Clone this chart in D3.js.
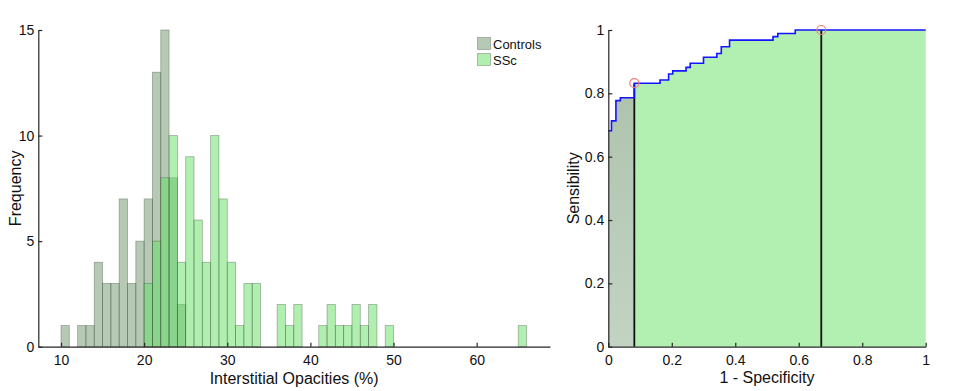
<!DOCTYPE html>
<html>
<head>
<meta charset="utf-8">
<script src="https://cdn.jsdelivr.net/npm/d3@7"></script>
<style>
  body { margin: 0; background: #fff; }
  text { font-family: "Liberation Sans", Arial, Helvetica, sans-serif; fill: #111; }
</style>
</head>
<body>
<svg width="957" height="391"></svg>
<script>
// Histogram data: bin start (width 1) and count
const controlsBin = [10, 12, 13, 14, 15, 16, 17, 18, 19, 20, 21, 22, 23, 24];
const controlsCount = [1, 1, 1, 4, 3, 3, 7, 3, 5, 7, 13, 15, 8, 2];
const sscBin = [20, 21, 22, 23, 24, 25, 26, 27, 28, 29, 30, 31, 32, 33, 36, 37, 38, 41, 42, 43, 44, 45, 46, 47, 49, 65];
const sscCount = [3, 5, 8, 10, 4, 9, 6, 4, 10, 7, 4, 1, 3, 3, 2, 1, 2, 1, 2, 1, 1, 2, 1, 2, 1, 1];
const histXTicks = [10, 20, 30, 40, 50, 60];
const histYTicks = [0, 5, 10, 15];
const legendLabels = ["Controls", "SSc"];

// ROC curve (step points)
const rocFpr = [0, 0.010, 0.024, 0.038, 0.082, 0.163, 0.190, 0.203, 0.245, 0.258, 0.300, 0.342, 0.356, 0.382, 0.519, 0.534, 0.589, 1.0];
const rocTpr = [0.682, 0.713, 0.777, 0.786, 0.832, 0.842, 0.861, 0.871, 0.882, 0.895, 0.914, 0.926, 0.947, 0.968, 0.979, 0.989, 1.0, 1.0];
// marked operating points
const cutFpr = [0.082, 0.671];
const cutTpr = [0.832, 1.0];
const rocTicks = [0, 0.2, 0.4, 0.6, 0.8, 1];

const svg = d3.select("svg");
const axisColor = "#262626";

const controlsFill = "#6b936b";
const sscFill = "#62e062";

// ---------- Left: histogram ----------
const hx = d3.scaleLinear().domain([7.27, 68.82]).range([38.3, 550]);
const hy = d3.scaleLinear().domain([0, 15]).range([346.7, 30]);

const left = svg.append("g");

const controls = controlsBin.map((b, i) => ({ bin: b, n: controlsCount[i] }));
const ssc = sscBin.map((b, i) => ({ bin: b, n: sscCount[i] }));

function drawBars(data, fill) {
  left.append("g")
    .selectAll("rect")
    .data(data)
    .enter()
    .append("rect")
    .attr("x", (d) => hx(d.bin))
    .attr("y", (d) => hy(d.n))
    .attr("width", (d) => hx(d.bin + 1) - hx(d.bin))
    .attr("height", (d) => hy(0) - hy(d.n))
    .attr("fill", fill)
    .attr("fill-opacity", 0.5)
    .attr("stroke", "#2e3a2e")
    .attr("stroke-opacity", 0.38)
    .attr("stroke-width", 0.8);
}
drawBars(controls, controlsFill);
drawBars(ssc, sscFill);

// axes
left.append("g")
  .attr("transform", `translate(0,${hy(0)})`)
  .call(d3.axisBottom(hx).tickValues(histXTicks).tickSizeInner(-4).tickSizeOuter(0).tickPadding(8));
left.append("g")
  .attr("transform", `translate(${hx.range()[0]},0)`)
  .call(d3.axisLeft(hy).tickValues(histYTicks).tickSizeInner(-4).tickSizeOuter(0).tickPadding(4));

left.append("text")
  .attr("x", (hx.range()[0] + hx.range()[1]) / 2)
  .attr("y", 384)
  .attr("text-anchor", "middle")
  .style("font-size", "16px")
  .text("Interstitial Opacities (%)");

left.append("text")
  .attr("transform", `translate(21,${(hy(0) + hy(15)) / 2}) rotate(-90)`)
  .attr("text-anchor", "middle")
  .style("font-size", "16px")
  .text("Frequency");

// legend
const legend = left.append("g");
[controlsFill, sscFill].forEach((c, i) => {
  legend.append("rect")
    .attr("x", 477.5)
    .attr("y", 37.5 + i * 16)
    .attr("width", 13)
    .attr("height", 12)
    .attr("fill", c)
    .attr("fill-opacity", 0.5)
    .attr("stroke", "#2e3a2e")
    .attr("stroke-opacity", 0.38)
    .attr("stroke-width", 0.8);
  legend.append("text")
    .attr("x", 493)
    .attr("y", 48.5 + i * 16)
    .style("font-size", "13px")
    .text(legendLabels[i]);
});

// ---------- Right: ROC ----------
const rx = d3.scaleLinear().domain([0, 1]).range([608.3, 925.7]);
const ry = d3.scaleLinear().domain([0, 1]).range([346.7, 30]);

const right = svg.append("g");

const roc = rocFpr.map((f, i) => ({ f: f, t: rocTpr[i] }));
const cut = cutFpr[0];
const grayPts = roc.filter((d) => d.f < cut);
grayPts.push({ f: cut, t: grayPts[grayPts.length - 1].t });
const greenPts = roc.filter((d) => d.f >= cut);

const defs = svg.append("defs");
const grad = defs.append("linearGradient")
  .attr("id", "grayGrad")
  .attr("x1", 0).attr("y1", 0).attr("x2", 0).attr("y2", 1);
grad.append("stop").attr("offset", "0%").attr("stop-color", "#afc4af");
grad.append("stop").attr("offset", "100%").attr("stop-color", "#c3d3c3");

const area = d3.area()
  .curve(d3.curveStepAfter)
  .x((d) => rx(d.f))
  .y0(ry(0))
  .y1((d) => ry(d.t));

right.append("path")
  .datum(grayPts)
  .attr("fill", "url(#grayGrad)")
  .attr("d", area);

right.append("path")
  .datum(greenPts)
  .attr("fill", "#b2f0b2")
  .attr("d", area);

// vertical cut lines
right.selectAll(".cutLine")
  .data(cutFpr)
  .enter()
  .append("line")
  .attr("class", "cutLine")
  .attr("x1", (d) => rx(d))
  .attr("x2", (d) => rx(d))
  .attr("y1", ry(0))
  .attr("y2", (d, i) => ry(cutTpr[i]))
  .attr("stroke", "#111")
  .attr("stroke-width", 1.8);

// ROC line
right.append("path")
  .datum(roc)
  .attr("fill", "none")
  .attr("stroke", "#1414ff")
  .attr("stroke-width", 1.6)
  .attr("d", d3.line().curve(d3.curveStepAfter).x((d) => rx(d.f)).y((d) => ry(d.t)));

// markers
right.selectAll(".cutMark")
  .data(cutFpr)
  .enter()
  .append("circle")
  .attr("class", "cutMark")
  .attr("cx", (d) => rx(d))
  .attr("cy", (d, i) => ry(cutTpr[i]))
  .attr("r", 4.5)
  .attr("fill", "none")
  .attr("stroke", "#f07a7a")
  .attr("stroke-width", 1.2);

right.append("g")
  .attr("transform", `translate(0,${ry(0)})`)
  .call(d3.axisBottom(rx).tickValues(rocTicks).tickFormat(d3.format("~g")).tickSizeInner(-4).tickSizeOuter(0).tickPadding(8));
right.append("g")
  .attr("transform", `translate(${rx(0)},0)`)
  .call(d3.axisLeft(ry).tickValues(rocTicks).tickFormat(d3.format("~g")).tickSizeInner(-4).tickSizeOuter(0).tickPadding(4));

right.append("text")
  .attr("x", (rx(0) + rx(1)) / 2)
  .attr("y", 383)
  .attr("text-anchor", "middle")
  .style("font-size", "16px")
  .text("1 - Specificity");

right.append("text")
  .attr("transform", `translate(579,${(ry(0) + ry(1)) / 2}) rotate(-90)`)
  .attr("text-anchor", "middle")
  .style("font-size", "16px")
  .text("Sensibility");

// axis styling
svg.selectAll(".domain").attr("stroke", axisColor).attr("stroke-width", 1.2);
svg.selectAll(".tick line").attr("stroke", axisColor).attr("stroke-width", 1.2);
svg.selectAll(".tick text").style("font-size", "14px").attr("fill", "#111");
</script>
</body>
</html>
